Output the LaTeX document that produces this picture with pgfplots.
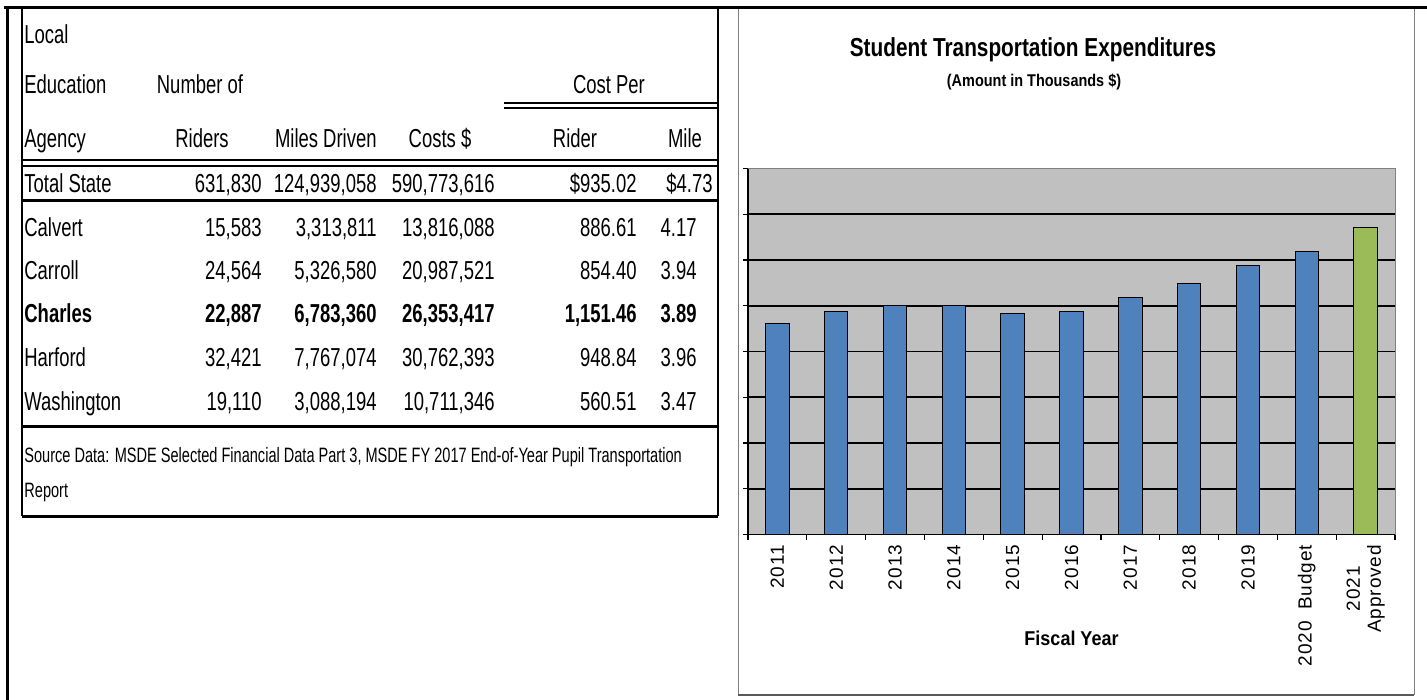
\documentclass[border=0pt]{standalone}
\usepackage{pgfplots}
\pgfplotsset{compat=1.18}
\usepackage{fontspec}
\setmainfont{Liberation Sans}
\newfontfamily\narrow[FakeStretch=0.71]{Liberation Sans}
\newfontfamily\srcf[FakeStretch=0.7]{Liberation Sans}
\newfontfamily\titlef[FakeStretch=0.8]{Liberation Sans}
\newfontfamily\subf[FakeStretch=0.85]{Liberation Sans}
\newfontfamily\fisc[FakeStretch=0.9]{Liberation Sans}
\newfontfamily\ticklab[LetterSpace=5]{Liberation Sans}
\definecolor{barblue}{HTML}{4F81BD}
\definecolor{bargreen}{HTML}{9BBB59}
\definecolor{plotgray}{HTML}{C0C0C0}
\definecolor{framegray}{HTML}{808080}
\newcommand{\T}{\narrow\fontsize{13}{15}\selectfont}
\newcommand{\Src}{\srcf\fontsize{10.4}{12}\selectfont}
\newcommand{\trow}[7]{%
  \node[anchor=base west,font=#2] at (24,#1) {#3};
  \node[anchor=base east,font=#2] at (262,#1) {#4};
  \node[anchor=base east,font=#2] at (377,#1) {#5};
  \node[anchor=base east,font=#2] at (495,#1) {#6};
  \node[anchor=base east,font=#2] at (637,#1) {#7};
}
\begin{document}
\begin{tikzpicture}
\useasboundingbox (0,0) rectangle (713.5pt,-350pt);
\begin{scope}[x=0.5pt,y=-0.5pt,every node/.style={inner sep=0pt}]
  % outer frame
  \draw[line width=1.5pt] (4,8) -- (1427,8);
  \draw[line width=1.5pt] (7,8) -- (7,700);
  % table box
  \draw[line width=1pt] (22,8) -- (22,516);
  \draw[line width=1pt] (718,8) -- (718,516);
  \draw[line width=1.5pt] (22,516) -- (718,516);
  \draw[line width=1pt] (504,103) -- (718,103);
  \draw[line width=1pt] (504,108) -- (718,108);
  \draw[line width=1.2pt] (22,160) -- (718,160);
  \draw[line width=1.2pt] (22,166) -- (718,166);
  \draw[line width=1.5pt] (22,201) -- (718,201);
  \draw[line width=1.5pt] (22,426) -- (718,426);
  % header
  \node[anchor=base west,font=\T] at (24,44) {Local};
  \node[anchor=base west,font=\T] at (24,94) {Education};
  \node[anchor=base west,font=\T] at (24,148) {Agency};
  \node[anchor=base,font=\T] at (200,94) {Number of};
  \node[anchor=base,font=\T] at (609,94) {Cost Per};
  \node[anchor=base,font=\T] at (202,148) {Riders};
  \node[anchor=base east,font=\T] at (377,148) {Miles Driven};
  \node[anchor=base,font=\T] at (440,148) {Costs \$};
  \node[anchor=base,font=\T] at (575,148) {Rider};
  \node[anchor=base,font=\T] at (685,148) {Mile};
  % rows
  \trow{192}{\T}{Total State}{631,830}{124,939,058}{590,773,616}{\$935.02}
  \node[anchor=base east,font=\T] at (713,192) {\$4.73};
  \trow{236}{\T}{Calvert}{15,583}{3,313,811}{13,816,088}{886.61}
  \node[anchor=base east,font=\T] at (697,236) {4.17};
  \trow{279}{\T}{Carroll}{24,564}{5,326,580}{20,987,521}{854.40}
  \node[anchor=base east,font=\T] at (697,279) {3.94};
  \trow{322}{\T\bfseries}{Charles}{22,887}{6,783,360}{26,353,417}{1,151.46}
  \node[anchor=base east,font=\T\bfseries] at (697,322) {3.89};
  \trow{366}{\T}{Harford}{32,421}{7,767,074}{30,762,393}{948.84}
  \node[anchor=base east,font=\T] at (697,366) {3.96};
  \trow{410}{\T}{Washington}{19,110}{3,088,194}{10,711,346}{560.51}
  \node[anchor=base east,font=\T] at (697,410) {3.47};
  \node[anchor=base west,font=\Src] at (24,462) {Source Data: MSDE Selected Financial Data Part 3, MSDE FY 2017 End-of-Year Pupil Transportation};
  \node[anchor=base west,font=\Src] at (24,497) {Report};
  % chart frame
  \draw[framegray,line width=0.5pt] (738,9) -- (738,695);
  \draw[framegray,line width=0.5pt] (1414,9) -- (1414,695);
  \draw[black!65,line width=1pt] (738,695) -- (1414,695);
  % titles
  \node[font=\titlef\bfseries\fontsize{13}{15}\selectfont] at (1033,50) {Student Transportation Expenditures};
  \node[font=\subf\bfseries\fontsize{8.5}{10}\selectfont] at (1034,82) {(Amount in Thousands \$)};
\end{scope}
\begin{axis}[
  at={(374pt,-267.25pt)}, anchor=south west,
  scale only axis, width=323.5pt, height=183pt,
  xmin=-0.5, xmax=10.5, ymin=0, ymax=40000,
  scaled y ticks=false,
  axis x line*=bottom, axis y line*=left,
  axis line style={-, black, line width=0.8pt},
  axis background/.style={fill=plotgray, draw=framegray, line width=0.5pt},
  ybar, bar width=11.75pt, bar shift=0pt,
  tick align=outside,
  major tick length=2.5pt, minor tick length=2.5pt,
  tick style={black, line width=0.6pt},
  xtick={0,...,10},
  xticklabels={2011,2012,2013,2014,2015,2016,2017,2018,2019,{2020\hspace{0.6em}Budget},{2021\\Approved}},
  major x tick style={draw=none},
  minor xtick={-0.5,0.5,...,10.5},
  xticklabel style={rotate=90, anchor=east, align=center, inner sep=2.5pt, font=\ticklab\fontsize{9.5}{10.5}\selectfont},
  ytick={0,5000,...,35000},
  yticklabels={},
  extra y ticks={40000},
  extra y tick labels={},
  extra y tick style={grid=none},
  ymajorgrids,
  major grid style={black, line width=0.8pt},
  xlabel={Fiscal Year},
  xlabel style={at={(axis description cs:0.5,0)}, anchor=center, yshift=-52pt, font=\fisc\bfseries\fontsize{10}{12}\selectfont},
]
\addplot[fill=barblue, draw=black, line width=0.5pt] coordinates {
  (0,23100) (1,24350) (2,25050) (3,25050) (4,24200) (5,24400)
  (6,25950) (7,27450) (8,29400) (9,30950)
};
\addplot[fill=bargreen, draw=black, line width=0.5pt] coordinates {(10,33550)};
\end{axis}
\end{tikzpicture}
\end{document}
